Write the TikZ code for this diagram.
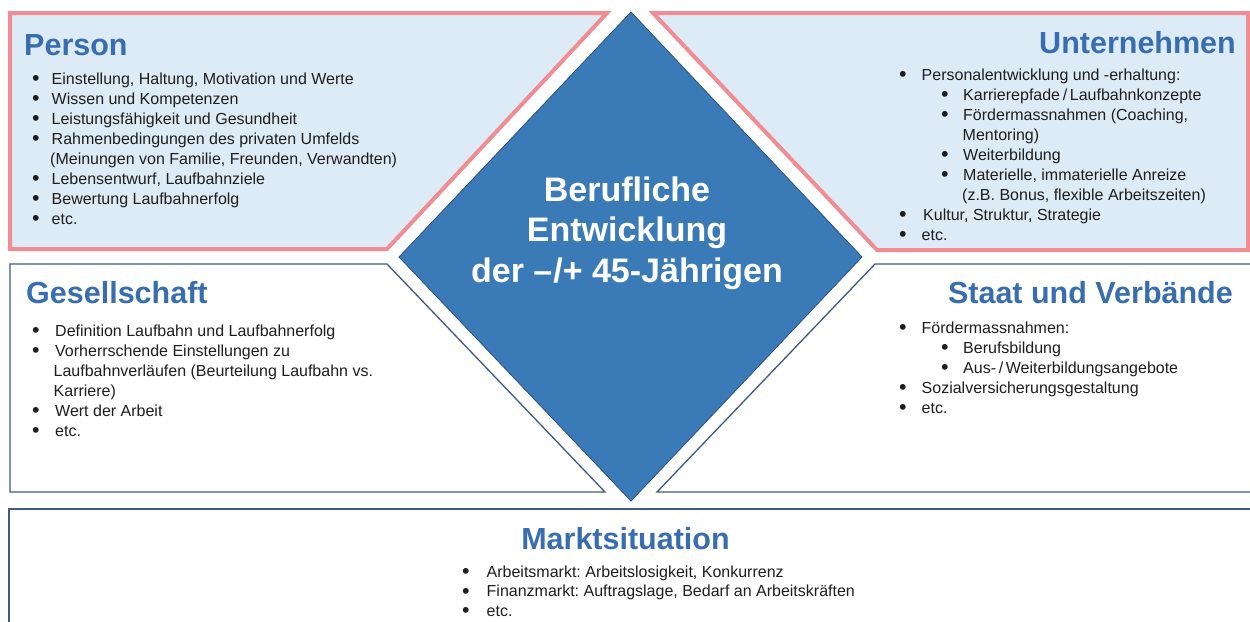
\documentclass[tikz,border=0pt]{standalone}
\usepackage{fontspec}
\setmainfont{Liberation Sans}
\frenchspacing
\definecolor{panelfill}{RGB}{221,235,247}
\definecolor{pinkline}{RGB}{240,140,146}
\definecolor{slateline}{RGB}{66,88,130}
\definecolor{diafill}{RGB}{58,123,183}
\definecolor{dialine}{RGB}{44,80,128}
\definecolor{titleblue}{RGB}{56,110,176}
\definecolor{bodytext}{RGB}{30,30,30}
\newcommand\bl[1]{\makebox[#1][l]{\hspace*{-1pt}\raisebox{-1.6pt}{\fontsize{21.5}{20}\selectfont\textbullet}}}
\tikzset{
  toppanel/.style={draw=pinkline, line width=4pt, fill=panelfill, line join=miter},
  midpanel/.style={draw=slateline, line width=1.3pt, fill=white},
  diashape/.style={draw=dialine, line width=0.8pt, fill=diafill},
  ptitle/.style={inner sep=0pt, text=titleblue, font=\fontsize{30.5}{36}\selectfont\bfseries},
  plist/.style={inner sep=0pt, anchor=base west, text=bodytext, font=\fontsize{16}{20}\selectfont},
  ctext/.style={inner sep=0pt, anchor=base, text=white, font=\fontsize{34}{40.5}\selectfont\bfseries}
}
\begin{document}
\begin{tikzpicture}[x=1pt, y=-1pt]
\useasboundingbox (0,0) rectangle (1250,621);
% panels
\draw[toppanel] (10,13) -- (607,13) -- (387,249) -- (10,249) -- cycle;
\draw[toppanel] (653,13) -- (1248,13) -- (1248,250) -- (877,250) -- cycle;
\draw[midpanel] (10,264) -- (387,264) -- (605,492) -- (10,492) -- cycle;
\draw[midpanel] (875,264) -- (1262,264) -- (1262,492) -- (657,492) -- cycle;
\draw[midpanel] (9,509) -- (1262,509) -- (1262,632) -- (9,632) -- cycle;
\draw[diashape] (631,12) -- (862,257) -- (631,501) -- (399,257) -- cycle;
% titles
\node[ptitle, anchor=base west] (tperson) at (24,55) {Person};
\node[ptitle, anchor=base east] (tunter) at (1236,53) {Unternehmen};
\node[ptitle, anchor=base west] (tges) at (26,303) {Gesellschaft};
\node[ptitle, anchor=base east] (tstaat) at (1233,303) {Staat und Verbände};
\node[ptitle, anchor=base] (tmarkt) at (625.5,549) {Marktsituation};
% center
\node[ctext] (center) at (627,201) {\parbox[t]{400pt}{\centering
Berufliche\\ Entwicklung\\ der –\kern1pt/+ 45-Jährigen}};
% lists
\node[plist] (lperson) at (33,84) {\parbox[t]{420pt}{\raggedright
\bl{18.5pt}Einstellung, Haltung, Motivation und Werte\\
\bl{18.5pt}Wissen und Kompetenzen\\
\bl{18.5pt}Leistungsfähigkeit und Gesundheit\\
\bl{18.5pt}Rahmenbedingungen des privaten Umfelds\\
\hspace*{17pt}(Meinungen von Familie, Freunden, Verwandten)\\
\bl{18.5pt}Lebensentwurf, Laufbahnziele\\
\bl{18.5pt}Bewertung Laufbahnerfolg\\
\bl{18.5pt}etc.}};
\node[plist] (lges) at (33,336) {\parbox[t]{420pt}{\raggedright
\bl{22pt}Definition Laufbahn und Laufbahnerfolg\\
\bl{22pt}Vorherrschende Einstellungen zu\\
\hspace*{20.5pt}Laufbahnverläufen (Beurteilung Laufbahn vs.\\
\hspace*{20.5pt}Karriere)\\
\bl{22pt}Wert der Arbeit\\
\bl{22pt}etc.}};
\node[plist] (lunter) at (900,80) {\parbox[t]{360pt}{\raggedright
\bl{21.5pt}Personalentwicklung und -erhaltung:\\
\hspace*{42pt}\bl{21pt}Karrierepfade\,/\,Laufbahnkonzepte\\
\hspace*{42pt}\bl{21pt}Fördermassnahmen (Coaching,\\
\hspace*{62.5pt}Mentoring)\\
\hspace*{42pt}\bl{21pt}Weiterbildung\\
\hspace*{42pt}\bl{21pt}Materielle, immaterielle Anreize\\
\hspace*{62pt}(z.B. Bonus, flexible Arbeitszeiten)\\
\bl{23pt}Kultur, Struktur, Strategie\\
\bl{21.5pt}etc.}};
\node[plist] (lstaat) at (900,333) {\parbox[t]{360pt}{\raggedright
\bl{21.5pt}Fördermassnahmen:\\
\hspace*{42pt}\bl{21pt}Berufsbildung\\
\hspace*{42pt}\bl{21pt}Aus-\,/\,Weiterbildungsangebote\\
\bl{21.5pt}Sozialversicherungsgestaltung\\
\bl{21.5pt}etc.}};
\node[plist] (lmarkt) at (463,577) {\parbox[t]{420pt}{\raggedright\baselineskip=19.5pt
\bl{23.5pt}Arbeitsmarkt: Arbeitslosigkeit, Konkurrenz\\
\bl{23.5pt}Finanzmarkt: Auftragslage, Bedarf an Arbeitskräften\\
\bl{23.5pt}etc.}};
\end{tikzpicture}
\end{document}
